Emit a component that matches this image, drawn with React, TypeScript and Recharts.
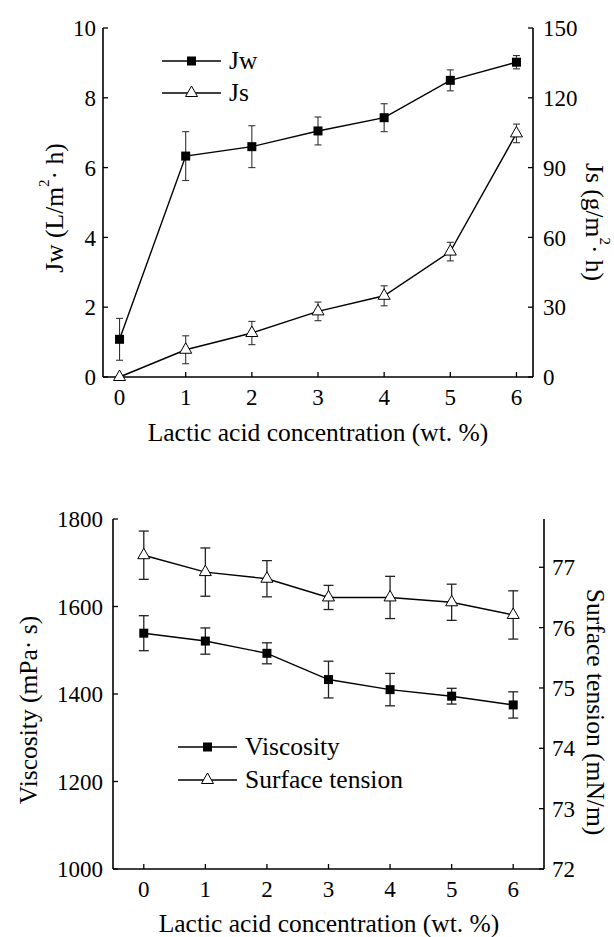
import React from 'react';
import { LineChart, Line, XAxis, YAxis, ErrorBar, Legend, Label } from 'recharts';

// ---------- data ----------
const concentrations = [0, 1, 2, 3, 4, 5, 6];

const jwValues = [1.08, 6.33, 6.6, 7.05, 7.43, 8.5, 9.02];
const jwErrors = [0.6, 0.7, 0.6, 0.4, 0.4, 0.3, 0.19];
const jsValues = [0, 11.7, 18.9, 28.2, 34.9, 53.9, 104.7];
const jsErrors = [0, 6, 5, 4, 4.3, 4, 4];

const viscosityValues = [1539, 1521, 1493, 1433, 1410, 1395, 1375];
const viscosityErrors = [40, 30, 24, 42, 37, 18, 30];
const surfaceTensionValues = [77.2, 76.92, 76.81, 76.5, 76.5, 76.42, 76.21];
const surfaceTensionErrors = [0.4, 0.4, 0.3, 0.2, 0.35, 0.3, 0.4];

const jwTicks = [0, 2, 4, 6, 8, 10];
const jsTicks = [0, 30, 60, 90, 120, 150];
const viscosityTicks = [1000, 1200, 1400, 1600, 1800];
const tensionTicks = [72, 73, 74, 75, 76, 77];

const topData = concentrations.map((c, i) => ({
  c,
  jw: jwValues[i],
  jwErr: jwErrors[i],
  js: jsValues[i],
  jsErr: jsErrors[i],
}));

const bottomData = concentrations.map((c, i) => ({
  c,
  visc: viscosityValues[i],
  viscErr: viscosityErrors[i],
  st: surfaceTensionValues[i],
  stErr: surfaceTensionErrors[i],
}));

// ---------- styles ----------
const FONT = '"Liberation Serif", "Times New Roman", Times, serif';
const TICK_FONT = 23;
const TITLE_FONT = 25.5;
const axisLine = { stroke: '#000', strokeWidth: 1.6 };
const tickLine = { stroke: '#000', strokeWidth: 1.3 };

const makeTick = (kind: 'x' | 'y') => (props: any) => {
  const { x, y, payload, textAnchor, index } = props;
  return (
    <text
      key={`t-${index}-${payload?.value}`}
      x={x}
      y={y}
      dy={kind === 'x' ? '0.71em' : '0.355em'}
      textAnchor={textAnchor}
      fontFamily={FONT}
      fontSize={TICK_FONT}
      fill="#000"
    >
      {payload?.value}
    </text>
  );
};
const xTick = makeTick('x');
const yTick = makeTick('y');

const SquareDot = (props: any) => {
  const { cx, cy, index } = props;
  if (cx == null || cy == null) return <g key={`sq-${index}`} />;
  return <rect key={`sq-${index}`} x={cx - 4.5} y={cy - 4.5} width={9} height={9} fill="#000" />;
};

const TriangleDot = (props: any) => {
  const { cx, cy, index } = props;
  if (cx == null || cy == null) return <g key={`tr-${index}`} />;
  return (
    <polygon
      key={`tr-${index}`}
      points={`${cx},${cy - 7} ${cx - 6},${cy + 3.5} ${cx + 6},${cy + 3.5}`}
      fill="#fff"
      stroke="#000"
      strokeWidth={1}
    />
  );
};

const LegendMarker = ({ kind }: { kind: string }) => (
  <svg width={60} height={32} style={{ display: 'block', flex: 'none' }}>
    <line x1={0} y1={16} x2={59} y2={16} stroke="#000" strokeWidth={1.4} />
    {kind === 'square' ? (
      <rect x={25} y={11.5} width={9} height={9} fill="#000" />
    ) : (
      <polygon points="29.5,9 23.5,19.5 35.5,19.5" fill="#fff" stroke="#000" strokeWidth={1} />
    )}
  </svg>
);

const makeLegend = (order: string[], markers: Record<string, string>, rowH: number) => (props: any) => {
  const payload = [...(props.payload || [])].sort(
    (a: any, b: any) => order.indexOf(a.dataKey) - order.indexOf(b.dataKey)
  );
  return (
    <div style={{ fontFamily: FONT, fontSize: TITLE_FONT, color: '#000' }}>
      {payload.map((entry: any) => (
        <div
          key={entry.dataKey}
          style={{ display: 'flex', alignItems: 'center', height: rowH, lineHeight: `${rowH}px`, whiteSpace: 'nowrap' }}
        >
          <LegendMarker kind={markers[entry.dataKey]} />
          <span style={{ marginLeft: 7 }}>{entry.value}</span>
        </div>
      ))}
    </div>
  );
};

const HTitle = ({ cx, cy, text }: { cx: number; cy: number; text: string }) => (
  <text x={cx} y={cy} textAnchor="middle" fontFamily={FONT} fontSize={TITLE_FONT} fill="#000">
    {text}
  </text>
);

const VTitle = ({
  cx,
  cy,
  angle,
  pre,
  sup,
  post,
}: {
  cx: number;
  cy: number;
  angle: number;
  pre: string;
  sup?: string;
  post?: string;
}) => (
  <text
    x={cx}
    y={cy}
    transform={`rotate(${angle} ${cx} ${cy})`}
    textAnchor="middle"
    dominantBaseline="central"
    fontFamily={FONT}
    fontSize={TITLE_FONT}
    fill="#000"
  >
    <tspan>{pre}</tspan>
    {sup ? (
      <tspan fontSize={15} dy={-10}>
        {sup}
      </tspan>
    ) : null}
    {post ? <tspan dy={sup ? 10 : 0}>{post}</tspan> : null}
  </text>
);

const TopChart = () => (
  <LineChart width={614} height={460} data={topData} margin={{ top: 28, right: 0, bottom: 23, left: 0 }}>
    <XAxis
      dataKey="c"
      type="number"
      domain={[-0.25, 6.25]}
      ticks={concentrations}
      interval={0}
      height={60}
      tickSize={-5}
      tickMargin={17}
      axisLine={axisLine}
      tickLine={tickLine}
      tick={xTick}
    >
      <Label content={() => <HTitle cx={318} cy={441} text="Lactic acid concentration (wt. %)" />} />
    </XAxis>
    <XAxis
      xAxisId="top"
      orientation="top"
      dataKey="c"
      type="number"
      domain={[-0.25, 6.25]}
      height={0}
      tick={false}
      tickLine={false}
      axisLine={axisLine}
    />
    <YAxis
      yAxisId="left"
      width={103}
      type="number"
      domain={[0, 10]}
      ticks={jwTicks}
      interval={0}
      tickSize={-5}
      tickMargin={12}
      axisLine={axisLine}
      tickLine={tickLine}
      tick={yTick}
    >
      <Label content={() => <VTitle cx={54} cy={208} angle={-90} pre="Jw (L/m" sup="2" post="· h)" />} />
    </YAxis>
    <YAxis
      yAxisId="right"
      orientation="right"
      width={81}
      type="number"
      domain={[0, 150]}
      ticks={jsTicks}
      interval={0}
      tickSize={-5}
      tickMargin={15}
      axisLine={axisLine}
      tickLine={tickLine}
      tick={yTick}
    >
      <Label content={() => <VTitle cx={595} cy={222} angle={90} pre="Js (g/m" sup="2" post="· h)" />} />
    </YAxis>
    <Legend
      layout="vertical"
      align="center"
      verticalAlign="middle"
      wrapperStyle={{ left: 162, top: 45, width: 140 }}
      content={makeLegend(['jw', 'js'], { jw: 'square', js: 'triangle' }, 32)}
    />
    <Line
      yAxisId="left"
      dataKey="jw"
      name="Jw"
      stroke="#000"
      strokeWidth={1.4}
      dot={SquareDot}
      activeDot={false}
      isAnimationActive={false}
    >
      <ErrorBar dataKey="jwErr" direction="y" width={3.5} stroke="#333" strokeWidth={1.1} />
    </Line>
    <Line
      yAxisId="right"
      dataKey="js"
      name="Js"
      stroke="#000"
      strokeWidth={1.4}
      dot={TriangleDot}
      activeDot={false}
      isAnimationActive={false}
    >
      <ErrorBar dataKey="jsErr" direction="y" width={3.5} stroke="#333" strokeWidth={1.1} />
    </Line>
  </LineChart>
);

const BottomChart = () => (
  <LineChart width={614} height={477} data={bottomData} margin={{ top: 59, right: 0, bottom: 8, left: 0 }}>
    <XAxis
      dataKey="c"
      type="number"
      domain={[-0.5, 6.5]}
      ticks={concentrations}
      interval={0}
      height={60}
      tickSize={-5}
      tickMargin={17}
      axisLine={axisLine}
      tickLine={tickLine}
      tick={xTick}
    >
      <Label content={() => <HTitle cx={329} cy={472} text="Lactic acid concentration (wt. %)" />} />
    </XAxis>
    <XAxis
      xAxisId="top"
      orientation="top"
      dataKey="c"
      type="number"
      domain={[-0.5, 6.5]}
      height={0}
      tick={false}
      tickLine={false}
      axisLine={axisLine}
    />
    <YAxis
      yAxisId="left"
      width={113}
      type="number"
      domain={[1000, 1800]}
      ticks={viscosityTicks}
      interval={0}
      tickSize={-5}
      tickMargin={15}
      axisLine={axisLine}
      tickLine={tickLine}
      tick={yTick}
    >
      <Label content={() => <VTitle cx={28} cy={250} angle={-90} pre="Viscosity (mPa· s)" />} />
    </YAxis>
    <YAxis
      yAxisId="right"
      orientation="right"
      width={70}
      type="number"
      domain={[72, 77.8]}
      ticks={tensionTicks}
      interval={0}
      tickSize={-5}
      tickMargin={13}
      axisLine={axisLine}
      tickLine={tickLine}
      tick={yTick}
    >
      <Label content={() => <VTitle cx={596} cy={252} angle={90} pre="Surface tension (mN/m)" />} />
    </YAxis>
    <Legend
      layout="vertical"
      align="center"
      verticalAlign="middle"
      wrapperStyle={{ left: 178, top: 270, width: 240 }}
      content={makeLegend(['visc', 'st'], { visc: 'square', st: 'triangle' }, 33)}
    />
    <Line
      yAxisId="left"
      dataKey="visc"
      name="Viscosity"
      stroke="#000"
      strokeWidth={1.4}
      dot={SquareDot}
      activeDot={false}
      isAnimationActive={false}
    >
      <ErrorBar dataKey="viscErr" direction="y" width={5} stroke="#222" strokeWidth={1.3} />
    </Line>
    <Line
      yAxisId="right"
      dataKey="st"
      name="Surface tension"
      stroke="#000"
      strokeWidth={1.4}
      dot={TriangleDot}
      activeDot={false}
      isAnimationActive={false}
    >
      <ErrorBar dataKey="stErr" direction="y" width={5} stroke="#222" strokeWidth={1.3} />
    </Line>
  </LineChart>
);

export default function App() {
  return (
    <div style={{ position: 'absolute', left: 0, top: 0, width: 614, height: 937, background: '#fff' }}>
      <TopChart />
      <BottomChart />
    </div>
  );
}
